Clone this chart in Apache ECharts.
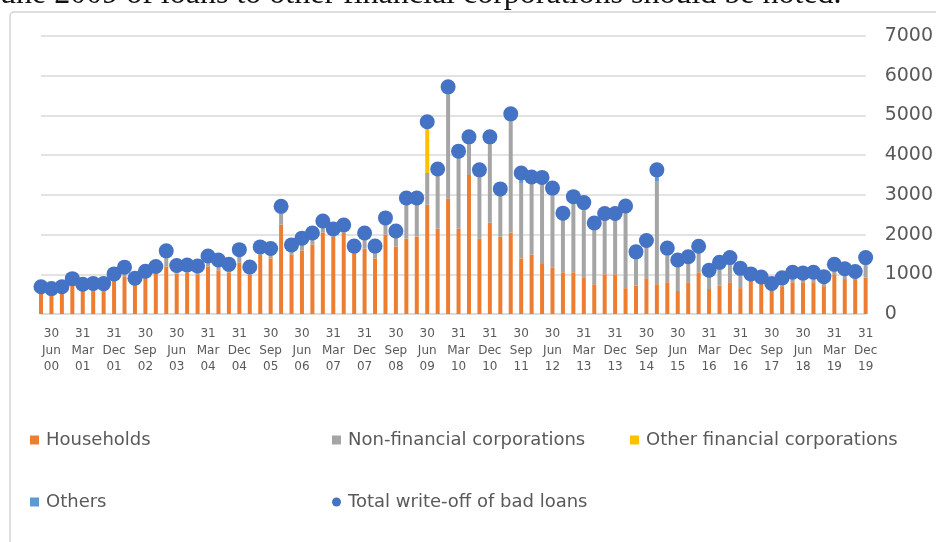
<!DOCTYPE html>
<html>
<head>
<meta charset="utf-8">
<script src="https://cdn.jsdelivr.net/npm/echarts@6/dist/echarts.min.js"></script>
<style>
html,body{margin:0;padding:0;background:#fff;overflow:hidden}
#c{width:936px;height:542px}
</style>
</head>
<body>
<div id="c"></div>
<script>
const categories = [
'31 Mar 00','30 Jun 00','30 Sep 00','31 Dec 00',
'31 Mar 01','30 Jun 01','30 Sep 01','31 Dec 01',
'31 Mar 02','30 Jun 02','30 Sep 02','31 Dec 02',
'31 Mar 03','30 Jun 03','30 Sep 03','31 Dec 03',
'31 Mar 04','30 Jun 04','30 Sep 04','31 Dec 04',
'31 Mar 05','30 Jun 05','30 Sep 05','31 Dec 05',
'31 Mar 06','30 Jun 06','30 Sep 06','31 Dec 06',
'31 Mar 07','30 Jun 07','30 Sep 07','31 Dec 07',
'31 Mar 08','30 Jun 08','30 Sep 08','31 Dec 08',
'31 Mar 09','30 Jun 09','30 Sep 09','31 Dec 09',
'31 Mar 10','30 Jun 10','30 Sep 10','31 Dec 10',
'31 Mar 11','30 Jun 11','30 Sep 11','31 Dec 11',
'31 Mar 12','30 Jun 12','30 Sep 12','31 Dec 12',
'31 Mar 13','30 Jun 13','30 Sep 13','31 Dec 13',
'31 Mar 14','30 Jun 14','30 Sep 14','31 Dec 14',
'31 Mar 15','30 Jun 15','30 Sep 15','31 Dec 15',
'31 Mar 16','30 Jun 16','30 Sep 16','31 Dec 16',
'31 Mar 17','30 Jun 17','30 Sep 17','31 Dec 17',
'31 Mar 18','30 Jun 18','30 Sep 18','31 Dec 18',
'31 Mar 19','30 Jun 19','30 Sep 19','31 Dec 19'
];

const households = [
600,560,600,780,650,670,670,880,950,780,
930,1020,1200,1020,1050,1000,1200,1100,1050,1300,
1000,1500,1400,2250,1500,1600,1750,2050,1950,2050,
1550,1650,1400,2000,1700,1900,1950,2750,2150,2900,
2150,3500,1900,2300,1950,2050,1400,1500,1280,1175,
1050,1050,925,750,1000,1000,650,720,900,750,
800,580,800,1050,630,720,800,650,850,780,
620,700,800,800,800,700,1000,880,880,920
];

const nonFinancial = [
85,80,85,110,100,100,95,130,230,120,
145,175,390,200,185,210,260,260,200,320,
185,190,250,460,240,310,290,290,190,190,
160,390,310,420,390,1020,970,800,1500,2820,
1950,960,1730,2060,1200,2990,1900,1850,2060,1995,
1490,1805,1880,1420,1430,1530,2070,845,950,2580,
860,780,640,655,470,580,620,500,160,150,
150,210,250,230,250,240,250,260,190,500
];

const otherFinancial = [
0,0,0,0,0,0,0,0,0,0,
0,0,0,0,0,0,0,0,0,0,
0,0,0,0,0,0,0,0,0,0,
0,0,0,0,0,0,0,1290,0,0,
0,0,0,100,0,0,0,0,100,0,
0,100,0,120,100,0,0,0,0,0,
0,0,0,0,0,0,0,0,0,0,
0,0,0,0,0,0,0,0,0,0
];

const others = [
0,0,0,0,0,0,0,0,0,0,
0,0,0,0,0,0,0,0,0,0,
0,0,0,0,0,0,0,0,0,0,
0,0,0,0,0,0,0,0,0,0,
0,0,0,0,0,0,250,100,0,0,
0,0,0,0,0,0,0,0,0,300,
0,0,0,0,0,0,0,0,0,0,
0,0,0,0,0,0,0,0,0,0
];

const totalWriteOff = [
685,640,685,890,750,770,765,1010,1180,900,
1075,1195,1590,1220,1235,1210,1460,1360,1250,1620,
1185,1690,1650,2710,1740,1910,2040,2340,2140,2240,
1710,2040,1710,2420,2090,2920,2920,4840,3650,5720,
4100,4460,3630,4460,3150,5040,3550,3450,3440,3170,
2540,2955,2805,2290,2530,2530,2720,1565,1850,3630,
1660,1360,1440,1705,1100,1300,1420,1150,1010,930,
770,910,1050,1030,1050,940,1250,1140,1070,1420
];

const yTicks = [0,1000,2000,3000,4000,5000,6000,7000];

const seriesNames = ['Households','Non-financial corporations','Other financial corporations','Others','Total write-off of bad loans'];
const colors = ['#ED7D31','#A5A5A5','#FFC000','#5B9BD5','#4472C4'];
const topText = 'une 2009 of loans to other financial corporations should be noted.';

const chart = echarts.init(document.getElementById('c'), null, {renderer:'canvas'});
const txt = {fontFamily:'DejaVu Sans', color:'#595959'};
function legendAt(name, icon, left, top){
  return {data:[name], left:left, top:top, icon:icon, itemWidth:9, itemHeight:9,
    itemGap:0, padding:0, selectedMode:false,
    textStyle:Object.assign({fontSize:18, padding:[0,0,0,2]}, txt)};
}
function barSeries(i, data){
  return {name:seriesNames[i], type:'bar', stack:'a', data:data, barWidth:4, clip:false,
    itemStyle:{color:colors[i]}, emphasis:{disabled:true}};
}
chart.setOption({
  animation:false,
  backgroundColor:'#ffffff',
  color:colors,
  graphic:[
    {type:'rect', shape:{x:10, y:12, width:1000, height:700, r:4}, style:{fill:'none', stroke:'#d4d4d4', lineWidth:1.5}, z:-1},
    {type:'text', x:0, y:11, style:{text:topText, fontSize:32, fontFamily:'Liberation Serif', fill:'#111', verticalAlign:'bottom'}}
  ],
  grid:{left:41, right:67, top:36, bottom:228},
  legend:[
    legendAt('Households','rect',30,431),
    legendAt('Non-financial corporations','rect',332,431),
    legendAt('Other financial corporations','rect',630,431),
    legendAt('Others','rect',30,493),
    legendAt('Total write-off of bad loans','circle',332,493)
  ],
  xAxis:{
    type:'category', data:categories, boundaryGap:false,
    axisTick:{show:false},
    axisLine:{lineStyle:{color:'#d9d9d9', width:1.5}},
    axisLabel:Object.assign({
      interval:function(index){ return index % 3 === 1; },
      formatter:function(v){ return v.split(' ').join('\n'); },
      fontSize:12, lineHeight:16.5, margin:12
    }, txt)
  },
  yAxis:{
    type:'value', position:'right', min:yTicks[0], max:yTicks[yTicks.length-1], interval:1000,
    axisLine:{show:false}, axisTick:{show:false},
    splitLine:{lineStyle:{color:'#d9d9d9', width:1.5}},
    axisLabel:Object.assign({fontSize:19, margin:19, align:'left',
      formatter:function(v){ return String(v); }}, txt)
  },
  series:[
    barSeries(0, households),
    barSeries(1, nonFinancial),
    barSeries(2, otherFinancial),
    barSeries(3, others),
    {name:seriesNames[4], type:'scatter', data:totalWriteOff, symbolSize:15, z:5,
     itemStyle:{color:colors[4], opacity:1}, emphasis:{disabled:true}}
  ]
});
</script>
</body>
</html>
